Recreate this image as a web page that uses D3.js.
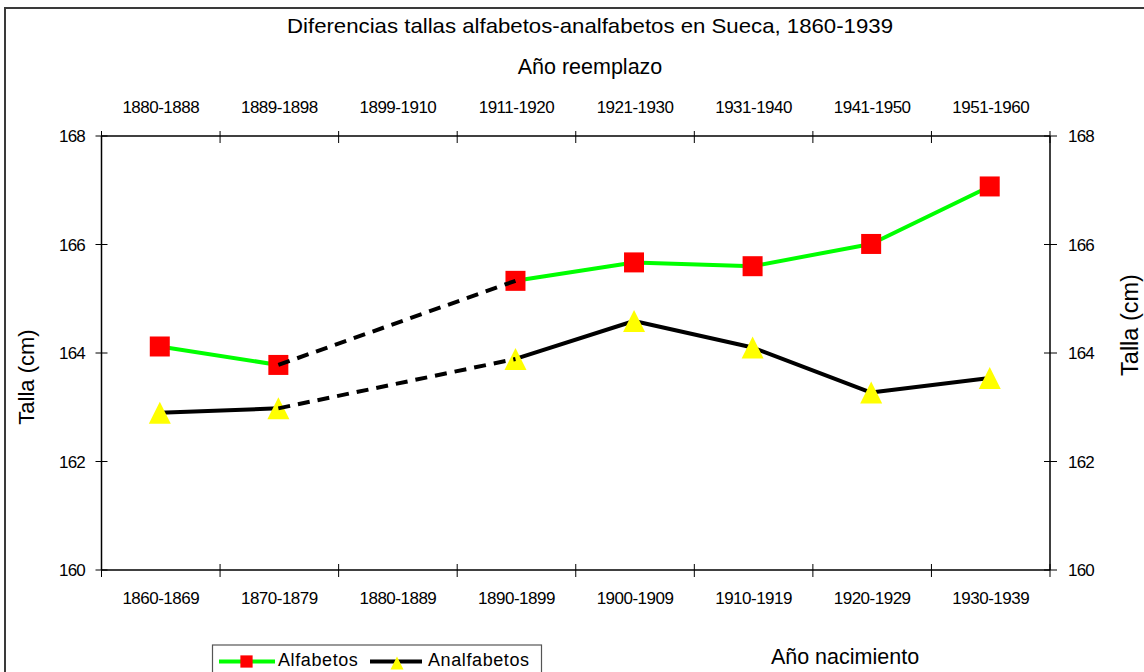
<!DOCTYPE html>
<html><head><meta charset="utf-8">
<script src="https://cdn.jsdelivr.net/npm/d3@7/dist/d3.min.js"></script>
<style>
html,body{margin:0;padding:0;background:#fff;}
svg{display:block;font-family:"Liberation Sans",Arial,sans-serif;}
</style></head>
<body>
<svg id="chart" width="1144" height="672"></svg>
<script>
const categories = ["1860-1869","1870-1879","1880-1889","1890-1899","1900-1909","1910-1919","1920-1929","1930-1939"];
const topLabels = ["1880-1888","1889-1898","1899-1910","1911-1920","1921-1930","1931-1940","1941-1950","1951-1960"];
const alfabetos = [164.12, 163.78, null, 165.33, 165.67, 165.60, 166.01, 167.07];
const analfabetos = [162.90, 162.98, null, 163.89, 164.59, 164.10, 163.27, 163.54];
const yTicks = [160, 162, 164, 166, 168];
const titleText = "Diferencias tallas alfabetos-analfabetos en Sueca, 1860-1939";
const topAxisTitle = "Año reemplazo";
const bottomAxisTitle = "Año nacimiento";
const yAxisTitle = "Talla (cm)";
const seriesNames = ["Alfabetos", "Analfabetos"];

const svg = d3.select("#chart");
const L = 101.5, R = 1050, T = 136, B = 570;

// outer border
svg.append("rect").attr("x", 5).attr("y", 8).attr("width", 1160).attr("height", 700)
  .attr("fill", "none").attr("stroke", "#3a3a3a").attr("stroke-width", 2);

const x = d3.scaleBand().domain(categories).range([L, R]).padding(0);
const xTop = d3.scaleBand().domain(topLabels).range([L, R]).padding(0);
const y = d3.scaleLinear().domain([160, 168]).range([B, T]);

// plot frame lines
const frame = svg.append("g").attr("stroke", "#000").attr("stroke-width", 1.5);
frame.append("line").attr("x1", L).attr("x2", R).attr("y1", T).attr("y2", T);
frame.append("line").attr("x1", L).attr("x2", R).attr("y1", B).attr("y2", B);
frame.append("line").attr("x1", L).attr("x2", L).attr("y1", T).attr("y2", B);
frame.append("line").attr("x1", R).attr("x2", R).attr("y1", T).attr("y2", B);

// category ticks (between bands), crossing lines
const tickPos = categories.map(c => x(c)).concat([R]);
tickPos.forEach(p => {
  frame.append("line").attr("x1", p).attr("x2", p).attr("y1", B - 6).attr("y2", B + 7).attr("stroke-width", 1);
  frame.append("line").attr("x1", p).attr("x2", p).attr("y1", T - 5).attr("y2", T + 7).attr("stroke-width", 1);
});
// y ticks both sides
yTicks.forEach(t => {
  frame.append("line").attr("x1", L - 6).attr("x2", L + 6).attr("y1", y(t)).attr("y2", y(t)).attr("stroke-width", 1);
  frame.append("line").attr("x1", R - 6).attr("x2", R + 7).attr("y1", y(t)).attr("y2", y(t)).attr("stroke-width", 1);
});

const tickFont = 17;
// bottom category labels
svg.append("g").selectAll("text").data(categories).join("text")
  .attr("x", d => x(d) + x.bandwidth() / 2).attr("y", 604)
  .attr("text-anchor", "middle").attr("font-size", tickFont).attr("letter-spacing", -0.5)
  .attr("fill", "#000").text(d => d);
// top labels
svg.append("g").selectAll("text").data(topLabels).join("text")
  .attr("x", d => xTop(d) + xTop.bandwidth() / 2).attr("y", 113)
  .attr("text-anchor", "middle").attr("font-size", tickFont).attr("letter-spacing", -0.5)
  .attr("fill", "#000").text(d => d);
// y labels
svg.append("g").selectAll("text").data(yTicks).join("text")
  .attr("x", 85).attr("y", d => y(d) + 6)
  .attr("text-anchor", "end").attr("font-size", tickFont).attr("letter-spacing", -0.8)
  .text(d => d);
svg.append("g").selectAll("text").data(yTicks).join("text")
  .attr("x", 1068).attr("y", d => y(d) + 6)
  .attr("text-anchor", "start").attr("font-size", tickFont).attr("letter-spacing", -0.8)
  .text(d => d);

// titles
svg.append("text").attr("x", 590).attr("y", 33).attr("text-anchor", "middle")
  .attr("font-size", 21).attr("textLength", 606).attr("lengthAdjust", "spacingAndGlyphs").text(titleText);
svg.append("text").attr("x", 590).attr("y", 74).attr("text-anchor", "middle")
  .attr("font-size", 21.5).text(topAxisTitle);
svg.append("text").attr("x", 845).attr("y", 664).attr("text-anchor", "middle")
  .attr("font-size", 21.5).text(bottomAxisTitle);
svg.append("text").attr("transform", "translate(34,377) rotate(-90)").attr("text-anchor", "middle")
  .attr("font-size", 22).text(yAxisTitle);
svg.append("text").attr("transform", "translate(1138,325) rotate(-90)").attr("text-anchor", "middle")
  .attr("font-size", 23.5).text(yAxisTitle);

const cx = i => x(categories[i]) + x.bandwidth() / 2 - 1;

function drawSeries(vals, color) {
  const line = d3.line().defined(d => d != null).x((d, i) => cx(i)).y(d => y(d));
  svg.append("path").datum(vals).attr("d", line).attr("fill", "none")
    .attr("stroke", color).attr("stroke-width", 4).attr("stroke-linejoin", "round");
}
function bridges(vals) {
  const segs = [];
  for (let i = 0; i < vals.length; i++) {
    if (vals[i] == null) {
      let a = i - 1, b = i + 1;
      while (b < vals.length && vals[b] == null) b++;
      if (a >= 0 && b < vals.length && vals[a] != null) segs.push([a, b]);
      i = b - 1;
    }
  }
  return segs;
}
function drawBridges(vals) {
  bridges(vals).forEach(([a, b]) => {
    svg.append("line").attr("x1", cx(a)).attr("y1", y(vals[a])).attr("x2", cx(b)).attr("y2", y(vals[b]))
      .attr("stroke", "#000").attr("stroke-width", 4).attr("stroke-dasharray", "12,8");
  });
}

drawSeries(alfabetos, "#00ff00");
drawSeries(analfabetos, "#000000");

const sq = d3.symbol().type(d3.symbolSquare).size(400);
// isosceles triangle, equal width and height, centred on the point
const triType = { draw(ctx, size) { const h = Math.sqrt(size) / 2; ctx.moveTo(0, -h); ctx.lineTo(h, h); ctx.lineTo(-h, h); ctx.closePath(); } };
const tri = d3.symbol().type(triType).size(22 * 22);

svg.append("g").selectAll("path").data(alfabetos.map((v, i) => ({v, i})).filter(d => d.v != null)).join("path")
  .attr("transform", d => `translate(${cx(d.i)},${y(d.v)})`).attr("d", sq).attr("fill", "#ff0000");
svg.append("g").selectAll("path").data(analfabetos.map((v, i) => ({v, i})).filter(d => d.v != null)).join("path")
  .attr("transform", d => `translate(${cx(d.i)},${y(d.v)})`).attr("d", tri).attr("fill", "#ffff00");

drawBridges(alfabetos);
drawBridges(analfabetos);

// legend
const lg = svg.append("g");
lg.append("rect").attr("x", 212.5).attr("y", 645).attr("width", 329).attr("height", 40)
  .attr("fill", "#fff").attr("stroke", "#555").attr("stroke-width", 1.2);
lg.append("line").attr("x1", 219).attr("x2", 275).attr("y1", 661.5).attr("y2", 661.5).attr("stroke", "#00ff00").attr("stroke-width", 4);
lg.append("path").attr("transform", "translate(246.5,661.5)").attr("d", d3.symbol().type(d3.symbolSquare).size(150)).attr("fill", "#ff0000");
lg.append("text").attr("x", 278).attr("y", 666).attr("font-size", 18).attr("letter-spacing", 0.6).text(seriesNames[0]);
lg.append("line").attr("x1", 370).attr("x2", 422).attr("y1", 661.5).attr("y2", 661.5).attr("stroke", "#000").attr("stroke-width", 4);
lg.append("path").attr("transform", "translate(397,663)").attr("d", d3.symbol().type(triType).size(13 * 13)).attr("fill", "#ffff00");
lg.append("text").attr("x", 428).attr("y", 666).attr("font-size", 18).attr("letter-spacing", 0.6).text(seriesNames[1]);
</script>
</body></html>
